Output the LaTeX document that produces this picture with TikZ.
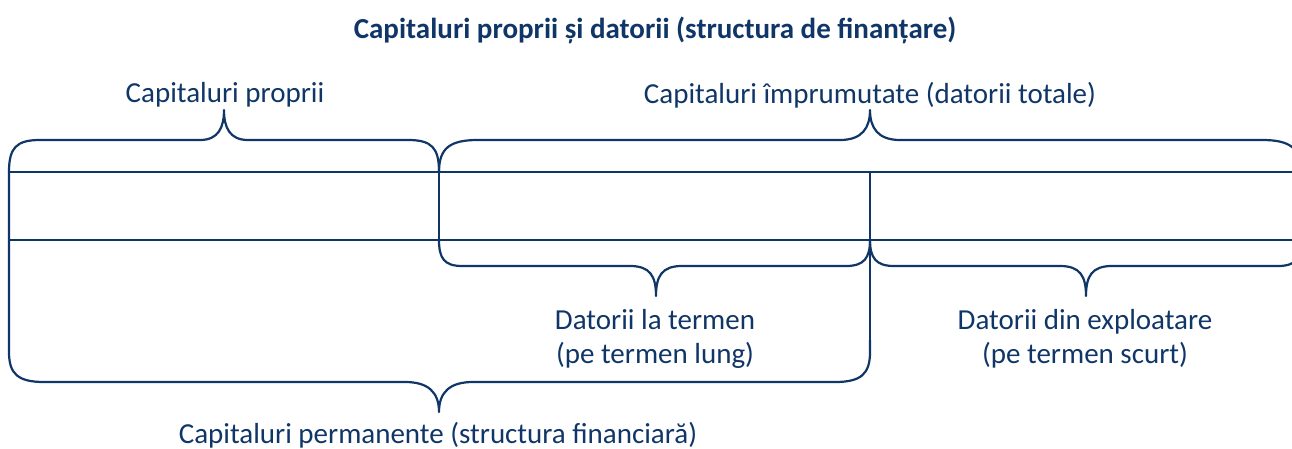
\documentclass[tikz,border=0pt]{standalone}
\usepackage{fontspec}
\setmainfont{Carlito}
\definecolor{navy}{RGB}{16,54,104}
\begin{document}
\begin{tikzpicture}[x=1pt,y=-1pt,
  ln/.style={draw=navy,line width=2.2pt,line cap=round,line join=round},
  lbl/.style={text=navy,font=\fontsize{29}{34}\selectfont,inner sep=0pt,align=center},
  ttl/.style={text=navy,font=\fontsize{29}{34}\selectfont\bfseries,inner sep=0pt}]
\clip (0,0) rectangle (1292,449);
\useasboundingbox (0,0) rectangle (1292,449);
% texts
\node[ttl] (title) at (655,30) {Capitaluri proprii și datorii (structura de finanțare)};
\node[lbl] (cp) at (225,95) {Capitaluri proprii};
\node[lbl] (ci) at (870,95) {Capitaluri împrumutate (datorii totale)};
\node[lbl] (dt) at (655,339) {Datorii la termen\\(pe termen lung)};
\node[lbl] (de) at (1085,339) {Datorii din exploatare\\(pe termen scurt)};
\node[lbl] (cpm) at (438,435) {Capitaluri permanente (structura financiară)};
% horizontal lines
\draw[ln] (9,172) -- (1300,172);
\draw[ln] (9,240) -- (1300,240);
% vertical lines
\draw[ln] (439,172) -- (439,240);
\draw[ln] (870,172) -- (870,355);
% brace: Capitaluri proprii
\draw[ln] (9,172) .. controls (9,148) and (16,140) .. (40,140) -- (200,140)
  .. controls (218,140) and (224,128) .. (224,110)
  .. controls (224,128) and (230,140) .. (248,140) -- (408,140)
  .. controls (432,140) and (439,148) .. (439,172);
% brace: Capitaluri imprumutate
\draw[ln] (439,172) .. controls (439,148) and (450,140) .. (478,140) -- (840,140)
  .. controls (862,140) and (870,128) .. (870,110)
  .. controls (870,128) and (878,140) .. (900,140) -- (1262,140)
  .. controls (1290,140) and (1301,148) .. (1301,172);
% brace: Datorii la termen
\draw[ln] (439,240) .. controls (439,258) and (444,266) .. (462,266) -- (630,266)
  .. controls (650,266) and (656,276) .. (656,296)
  .. controls (656,276) and (662,266) .. (682,266) -- (846,266)
  .. controls (864,266) and (870,258) .. (870,240);
% brace: Datorii din exploatare
\draw[ln] (870,240) .. controls (870,258) and (876,266) .. (894,266) -- (1060,266)
  .. controls (1080,266) and (1086,276) .. (1086,296)
  .. controls (1086,276) and (1092,266) .. (1112,266) -- (1278,266)
  .. controls (1296,266) and (1302,258) .. (1302,240);
% brace: Capitaluri permanente
\draw[ln] (9,172) -- (9,352) .. controls (9,374) and (18,382) .. (44,382) -- (405,382)
  .. controls (428,382) and (439,392) .. (439,412)
  .. controls (439,392) and (450,382) .. (473,382) -- (835,382)
  .. controls (861,382) and (870,374) .. (870,352) -- (870,340);
\end{tikzpicture}
\end{document}
